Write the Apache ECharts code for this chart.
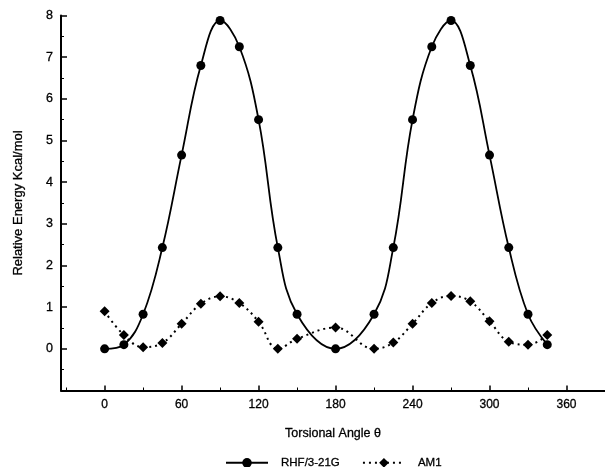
<!DOCTYPE html>
<html>
<head>
<meta charset="utf-8">
<script src="https://cdn.jsdelivr.net/npm/echarts@6/dist/echarts.min.js"></script>
<style>
html, body { margin: 0; padding: 0; background: #fff; }
#chart { width: 605px; height: 467px; }
</style>
</head>
<body>
<div id="chart"></div>
<script>
// torsional angle (deg) and relative energies (kcal/mol)
const rhfAngles = [0, 15, 30, 45, 60, 75, 90, 105, 120, 135, 150, 180, 210, 225, 240, 255, 270, 285, 300, 315, 330, 345];
const rhfValues = [0, 0.1, 0.83, 2.43, 4.65, 6.8, 7.88, 7.25, 5.5, 2.43, 0.83, 0, 0.83, 2.43, 5.5, 7.25, 7.88, 6.8, 4.65, 2.43, 0.83, 0.1];
const am1Angles = [0, 15, 30, 45, 60, 75, 90, 105, 120, 135, 150, 180, 210, 225, 240, 255, 270, 285, 300, 315, 330, 345];
const am1Values = [0.9, 0.33, 0.04, 0.14, 0.6, 1.08, 1.26, 1.1, 0.65, 0.0, 0.24, 0.51, 0.0, 0.15, 0.6, 1.1, 1.27, 1.14, 0.66, 0.17, 0.1, 0.33];
const xTicks = [0, 60, 120, 180, 240, 300, 360];
const xMinorTicks = [-30, 30, 90, 150, 210, 270, 330];
const yTicks = [0, 1, 2, 3, 4, 5, 6, 7, 8];

const font = 'Liberation Sans, Arial, sans-serif';
const pair = (xs, ys) => xs.map((x, i) => [x, ys[i]]);
// slightly heavier text, like the scanned original
const heavy = { textBorderColor: '#000', textBorderWidth: 0.3 };

let chart = echarts.init(document.getElementById('chart'));
let option = {
	animation: false,
	textStyle: { fontFamily: font, color: '#000' },
	grid: { left: 61, right: 0, top: 15.5, bottom: 76.5 },
	legend: {
		bottom: -2,
		left: 225,
		padding: 0,
		itemWidth: 42,
		itemHeight: 12,
		itemGap: 22,
		textStyle: Object.assign({ fontFamily: font, fontSize: 11.5, color: '#000', padding: [0, 0, 0, 8] }, heavy),
		data: ['RHF/3-21G', 'AM1']
	},
	xAxis: [
		{
			type: 'value',
			min: -34,
			max: 390,
			name: 'Torsional Angle θ',
			nameLocation: 'middle',
			nameGap: 37,
			nameTextStyle: Object.assign({ fontFamily: font, fontSize: 12.5, color: '#000' }, heavy),
			axisLine: { onZero: false, lineStyle: { color: '#000', width: 2 } },
			axisTick: { inside: true, length: 5, lineStyle: { color: '#000', width: 1.5 }, customValues: xTicks },
			axisLabel: Object.assign({ customValues: xTicks, fontSize: 12, color: '#000', margin: 8 }, heavy),
			splitLine: { show: false }
		},
		{
			type: 'value',
			min: -34,
			max: 390,
			position: 'bottom',
			axisLine: { show: false, onZero: false },
			axisTick: { inside: true, length: 3, lineStyle: { color: '#000', width: 1 }, customValues: xMinorTicks },
			axisLabel: { show: false },
			splitLine: { show: false }
		}
	],
	yAxis: {
		type: 'value',
		min: -1,
		max: 8,
		interval: 1,
		name: 'Relative Energy Kcal/mol',
		nameLocation: 'middle',
		nameGap: 36,
		nameTextStyle: Object.assign({ fontFamily: font, fontSize: 13, color: '#000' }, heavy),
		axisLine: { show: true, onZero: false, lineStyle: { color: '#000', width: 2 } },
		axisTick: { show: true, inside: true, length: 6, lineStyle: { color: '#000', width: 1.5 } },
		minorTick: { show: true, splitNumber: 2, length: 3, lineStyle: { color: '#000', width: 1 } },
		axisLabel: Object.assign({ customValues: yTicks, fontSize: 12.5, color: '#000', margin: 8 }, heavy),
		splitLine: { show: false }
	},
	series: [
		{
			name: 'RHF/3-21G',
			type: 'line',
			smooth: 0.4,
			symbol: 'circle',
			symbolSize: 9,
			itemStyle: { color: '#000' },
			lineStyle: { color: '#000', width: 1.8 },
			data: pair(rhfAngles, rhfValues)
		},
		{
			name: 'AM1',
			type: 'line',
			smooth: 0.4,
			symbol: 'diamond',
			symbolSize: 10,
			itemStyle: { color: '#000' },
			lineStyle: { color: '#000', width: 2, type: [2, 4] },
			data: pair(am1Angles, am1Values)
		}
	]
};
chart.setOption(option);
</script>
</body>
</html>
